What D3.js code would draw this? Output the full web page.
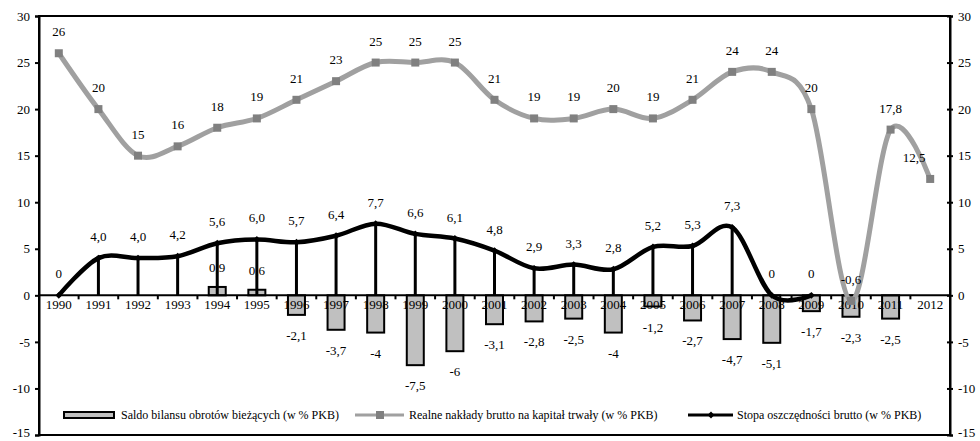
<!DOCTYPE html>
<html><head><meta charset="utf-8">
<script src="https://cdn.jsdelivr.net/npm/d3@7"></script>
<style>body{margin:0;background:#fff}svg text{font-family:"Liberation Serif","Times New Roman",serif;fill:#000}</style>
</head><body>
<svg id="c" width="980" height="441"></svg>
<script>
const years = [1990,1991,1992,1993,1994,1995,1996,1997,1998,1999,2000,2001,2002,2003,2004,2005,2006,2007,2008,2009,2010,2011,2012];
const saldo = [null,null,null,null,0.9,0.6,-2.1,-3.7,-4,-7.5,-6,-3.1,-2.8,-2.5,-4,-1.2,-2.7,-4.7,-5.1,-1.7,-2.3,-2.5,null];
const naklady = [26,20,15,16,18,19,21,23,25,25,25,21,19,19,20,19,21,24,24,20,-0.6,17.8,12.5];
const stopa = [0,4.0,4.0,4.2,5.6,6.0,5.7,6.4,7.7,6.6,6.1,4.8,2.9,3.3,2.8,5.2,5.3,7.3,0,0,null,null,null];
const yTicks = [-15,-10,-5,0,5,10,15,20,25,30];
const seriesNames = ["Saldo bilansu obrotów bieżących (w % PKB)","Realne nakłady brutto na kapitał trwały (w % PKB)","Stopa oszczędności brutto (w % PKB)"];

const svg = d3.select("#c");
const L=39, R=950, T=16, B=435;
const x = d3.scaleBand().domain(years).range([L,R]);
const y = d3.scaleLinear().domain([-15,30]).range([B,T]);
const cx = d => x(d)+x.bandwidth()/2;
const fmt = v => String(v).replace(".", ",");
const fmt1 = v => v.toFixed(1).replace(".", ",");

// frame
svg.append("rect").attr("x",L).attr("y",T).attr("width",R-L).attr("height",B-T).attr("fill","none").attr("stroke","#000").attr("stroke-width",2);

// left axis
const ga = svg.append("g").attr("transform",`translate(${L},0)`).call(d3.axisLeft(y).tickValues(yTicks).tickSize(4).tickPadding(5).tickFormat(d=>d));
ga.select(".domain").attr("stroke-width",2);
ga.selectAll(".tick line").attr("stroke-width",2);
ga.selectAll("text").attr("font-size",13).style("font-family","Liberation Serif").attr("dy",d=>d===-15?"0.1em":"0.32em");
const gr = svg.append("g").attr("transform",`translate(${R},0)`).call(d3.axisRight(y).tickValues(yTicks).tickSize(3).tickPadding(5).tickFormat(d=>d));
gr.select(".domain").attr("stroke-width",2);
gr.selectAll(".tick line").attr("stroke-width",2).attr("x1",-3);
gr.selectAll("text").attr("font-size",13).style("font-family","Liberation Serif").attr("dy",d=>d===-15?"0.1em":"0.32em");

// bars
const bw = 17;
svg.append("g").selectAll("rect").data(years.map((yr,i)=>({yr,v:saldo[i]})).filter(d=>d.v!==null)).join("rect")
  .attr("x",d=>cx(d.yr)-bw/2).attr("width",bw)
  .attr("y",d=>y(Math.max(0,d.v))).attr("height",d=>Math.abs(y(d.v)-y(0)))
  .attr("fill","#c0c0c0").attr("stroke","#000").attr("stroke-width",2);

// category axis
svg.append("line").attr("x1",L).attr("x2",R).attr("y1",y(0)).attr("y2",y(0)).attr("stroke","#000").attr("stroke-width",2);
svg.append("g").selectAll("line").data(years.slice(1)).join("line")
  .attr("x1",d=>x(d)).attr("x2",d=>x(d)).attr("y1",y(0)).attr("y2",y(0)+4).attr("stroke","#000").attr("stroke-width",2);
svg.append("g").selectAll("text").data(years).join("text")
  .attr("x",d=>cx(d)).attr("y",y(0)+14).attr("text-anchor","middle").attr("font-size",13).text(d=>d);

// bar labels
svg.append("g").selectAll("text").data(years.map((yr,i)=>({yr,v:saldo[i]})).filter(d=>d.v!==null)).join("text")
  .attr("x",d=>cx(d.yr)).attr("y",d=>d.v>0?y(d.v)-15:y(d.v)+25)
  .attr("text-anchor","middle").attr("font-size",13).text(d=>fmt(d.v));

// gray line
const ndata = years.map((yr,i)=>({yr,v:naklady[i]}));
const line = d3.line().x(d=>cx(d.yr)).y(d=>y(d.v)).curve(d3.curveCardinal.tension(0));
svg.append("path").datum(ndata).attr("d",line).attr("fill","none").attr("stroke","#a0a0a0").attr("stroke-width",5);
svg.append("g").selectAll("rect").data(ndata).join("rect")
  .attr("x",d=>cx(d.yr)-4).attr("y",d=>y(d.v)-4).attr("width",8).attr("height",8).attr("fill","#808080");

// black line + drop lines
const sdata = years.map((yr,i)=>({yr,v:stopa[i]})).filter(d=>d.v!==null);
svg.append("g").selectAll("line").data(sdata.filter(d=>d.v!==0)).join("line")
  .attr("x1",d=>cx(d.yr)).attr("x2",d=>cx(d.yr)).attr("y1",d=>y(d.v)).attr("y2",y(0)).attr("stroke","#000").attr("stroke-width",3);
svg.append("path").datum(sdata).attr("d",line).attr("fill","none").attr("stroke","#000").attr("stroke-width",4.5);
svg.append("g").selectAll("path").data(sdata).join("path")
  .attr("d",d3.symbol(d3.symbolDiamond2,30)).attr("transform",d=>`translate(${cx(d.yr)},${y(d.v)})`).attr("fill","#000");

// labels
svg.append("g").selectAll("text").data(ndata).join("text")
  .attr("x",(d,i)=>cx(d.yr)-(i===years.length-1?16:0)).attr("y",d=>y(d.v)-17)
  .attr("text-anchor","middle").attr("font-size",13).text(d=>fmt(d.v));
svg.append("g").selectAll("text").data(sdata).join("text")
  .attr("x",d=>cx(d.yr)).attr("y",d=>y(d.v)-17)
  .attr("text-anchor","middle").attr("font-size",13).text(d=>d.v===0?"0":fmt1(d.v));

// legend
const ly = 415;
const lg = svg.append("g");
lg.append("rect").attr("x",64).attr("y",ly-3).attr("width",50).attr("height",6).attr("fill","#c0c0c0").attr("stroke","#000").attr("stroke-width",2);
lg.append("text").attr("x",121).attr("y",ly+4).attr("font-size",12).text(seriesNames[0]);
lg.append("line").attr("x1",355).attr("x2",404).attr("y1",ly).attr("y2",ly).attr("stroke","#a0a0a0").attr("stroke-width",3);
lg.append("rect").attr("x",376).attr("y",ly-4).attr("width",8).attr("height",8).attr("fill","#808080");
lg.append("text").attr("x",409).attr("y",ly+4).attr("font-size",12).text(seriesNames[1]);
lg.append("line").attr("x1",688).attr("x2",733).attr("y1",ly).attr("y2",ly).attr("stroke","#000").attr("stroke-width",3);
lg.append("path").attr("d",d3.symbol(d3.symbolDiamond2,30)).attr("transform",`translate(711,${ly})`).attr("fill","#000");
lg.append("text").attr("x",737).attr("y",ly+4).attr("font-size",12).text(seriesNames[2]);
</script>
</body></html>
